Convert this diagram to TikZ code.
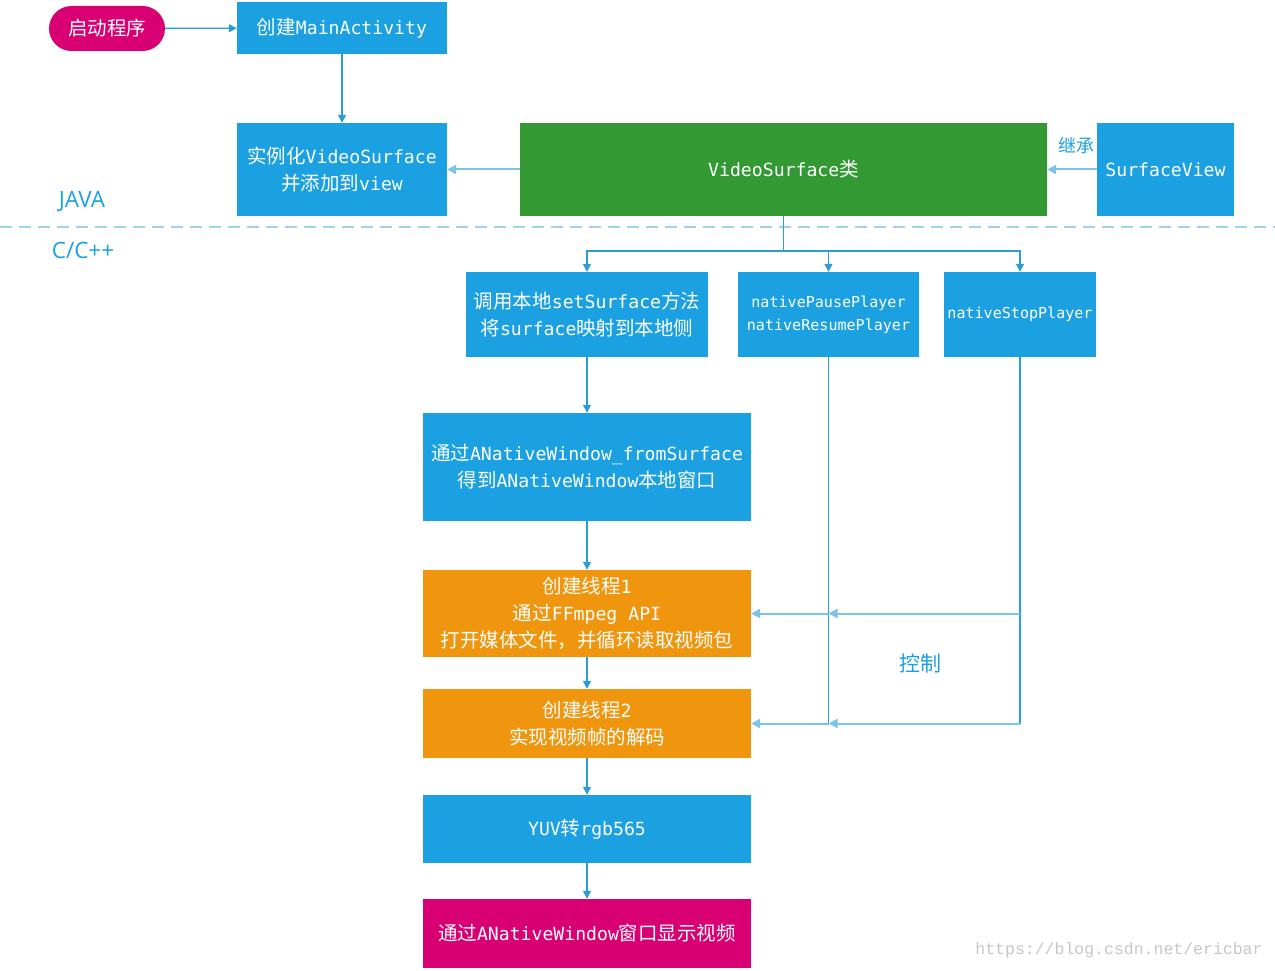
\documentclass[tikz,border=0pt]{standalone}
\usepackage{fontspec}
\setmainfont{Noto Sans CJK SC}
\newfontfamily\mn[Scale=0.93]{DejaVu Sans Mono}
\newfontfamily\lat{Open Sans}
\newfontfamily\wmfont{Liberation Mono}
\usetikzlibrary{arrows.meta}
\definecolor{mblue}{HTML}{1BA1E2}
\definecolor{mgreen}{HTML}{339933}
\definecolor{morange}{HTML}{F0960E}
\definecolor{mmag}{HTML}{D80073}
\definecolor{lineblue}{HTML}{2B9CDB}
\definecolor{lightline}{HTML}{7CC3EC}
\definecolor{dashblue}{HTML}{9FD2EE}
\tikzset{
  box/.style={fill=#1, draw=none, text=white, inner sep=0pt, align=center,
    font=\fontsize{19.5}{27}\selectfont},
  flow/.style={draw=lineblue, line width=1.3pt, -{Triangle[length=8pt,width=8pt]}},
  ctl/.style={draw=lightline, line width=2pt, -{Triangle[length=9pt,width=9pt]}},
  plain/.style={draw=lineblue, line width=1.3pt},
  lbl/.style={text=mblue, inner sep=0pt},
}
\begin{document}
\begin{tikzpicture}[x=1pt,y=-1pt]
\useasboundingbox[fill=white] (0,0) rectangle (1275,971);
% dashed separator
\draw[dashblue, line width=1.5pt, dash pattern=on 12pt off 7pt] (0,227) -- (1275,227);
\node[lbl, font=\lat\fontsize{22.5}{26}\selectfont] (java) at (82,202) {JAVA};
\node[lbl, font=\lat\fontsize{22.5}{26}\selectfont] (cpp) at (83,250) {C/C++};

% nodes
\node[box=mmag, rounded corners=22.5pt, minimum width=116pt, minimum height=45pt] (start) at (107,28.5) {启动程序};
\node[box=mblue, minimum width=210pt, minimum height=52pt] (ma) at (342,28) {创建{\mn MainActivity}};
\node[box=mblue, minimum width=210pt, minimum height=93pt] (inst) at (342,169.5) {实例化{\mn VideoSurface}\\并添加到{\mn view}};
\node[box=mgreen, minimum width=527pt, minimum height=93pt] (vs) at (783.5,169.5) {{\mn VideoSurface}类};
\node[box=mblue, minimum width=137pt, minimum height=93pt] (sv) at (1165.5,169.5) {{\mn SurfaceView}};
\node[lbl, font=\fontsize{18}{20}\selectfont] (inh) at (1076,146) {继承};

\node[box=mblue, minimum width=242pt, minimum height=85pt] (call) at (587,314.5) {调用本地{\mn setSurface}方法\\将{\mn surface}映射到本地侧};
\node[box=mblue, minimum width=181pt, minimum height=85pt, font=\fontsize{16.2}{23}\selectfont] (pause) at (828.5,314.5) {{\mn nativePausePlayer}\\{\mn nativeResumePlayer}};
\node[box=mblue, minimum width=152pt, minimum height=85pt, font=\fontsize{16.2}{23}\selectfont] (stop) at (1020,314.5) {{\mn nativeStopPlayer}};

\node[box=mblue, minimum width=328pt, minimum height=108pt] (anw) at (587,467) {通过{\mn ANativeWindow\_fromSurface}\\得到{\mn ANativeWindow}本地窗口};
\node[box=morange, minimum width=328pt, minimum height=87pt] (t1) at (587,613.5) {创建线程{\mn 1}\\通过{\mn FFmpeg API}\\打开媒体文件，并循环读取视频包};
\node[box=morange, minimum width=328pt, minimum height=69pt] (t2) at (587,723.5) {创建线程{\mn 2}\\实现视频帧的解码};
\node[box=mblue, minimum width=328pt, minimum height=68pt] (yuv) at (587,829) {{\mn YUV}转{\mn rgb565}};
\node[box=mmag, minimum width=328pt, minimum height=69pt] (disp) at (587,933.5) {通过{\mn ANativeWindow}窗口显示视频};

\node[lbl, font=\fontsize{21}{23}\selectfont] (ctrl) at (920,663) {控制};
\node[text=black!22, inner sep=0pt, font=\wmfont\fontsize{16.5}{18}\selectfont] (wm) at (1119,950) {https://blog.csdn.net/ericbar};

% connectors
\draw[flow] (start) -- (ma);
\draw[flow] (ma) -- (inst);
\draw[ctl] (vs) -- (inst);
\draw[ctl] (sv) -- (vs);

\coordinate (j) at (783.5,251);
\draw[plain] (vs.south) -- (j);
\draw[flow] (j) -| (call.north);
\draw[flow] (j) -| (pause.north);
\draw[flow] (j) -| (stop.north);

\draw[flow] (call) -- (anw);
\draw[flow] (anw) -- (t1);
\draw[flow] (t1) -- (t2);
\draw[flow] (t2) -- (yuv);
\draw[flow] (yuv) -- (disp);

\coordinate (c1) at (828.5,613.5);
\coordinate (s1) at (1020,613.5);
\coordinate (c2) at (828.5,723.5);
\coordinate (s2) at (1020,723.5);
\draw[plain] (pause.south) -- (c2);
\draw[plain] (stop.south) -- (s2);
\draw[ctl] (s1) -- (c1);
\draw[ctl] (c1) -- (t1.east);
\draw[ctl] (s2) -- (c2);
\draw[ctl] (c2) -- (t2.east);
\end{tikzpicture}
\end{document}
